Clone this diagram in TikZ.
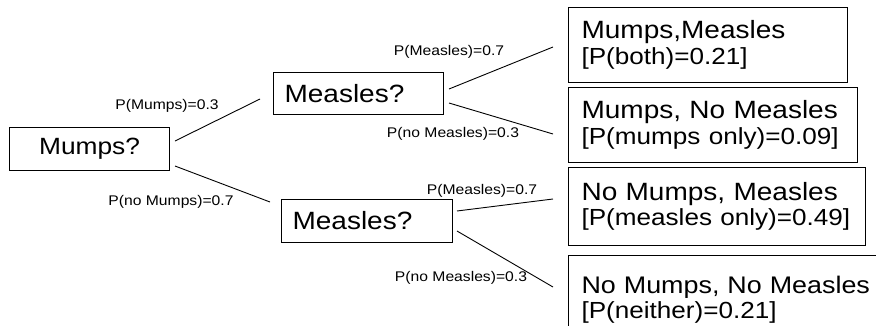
\documentclass[tikz,border=0pt]{standalone}
\usepackage{fontspec}
\setmainfont{Liberation Sans}[FakeStretch=1.12]
\newcommand{\sndline}{\fontsize{23.3}{25.5}\selectfont}
\begin{document}
\begin{tikzpicture}[x=1pt,y=-1pt,
  decbox/.style={draw, line width=1.1pt, anchor=north west, inner ysep=0pt,
    font=\fontsize{25}{26}\selectfont},
  leaf/.style={draw, line width=1.1pt, anchor=north west, inner xsep=13pt, inner ysep=0pt,
    align=left, font=\fontsize{25}{25.5}\selectfont},
  lab/.style={inner sep=0pt, font=\fontsize{14}{16}\selectfont},
  branch/.style={line width=0.9pt}]
\useasboundingbox (0,0) rectangle (876,325);

% decision boxes
\node[decbox, minimum width=160pt, minimum height=43pt, inner xsep=0pt, align=center,
      font=\fontsize{23.5}{26}\selectfont] (mumps) at (9,127) {Mumps?};
\node[decbox, text width=148pt, inner xsep=11pt, minimum height=42pt, align=left] (measA) at (273,72) {Measles?};
\node[decbox, text width=149pt, inner xsep=11pt, minimum height=43pt, align=left] (measB) at (281,199) {Measles?};

% outcome boxes
\node[leaf, text width=253pt, minimum height=75pt] (l1) at (568,7) {Mumps,Measles\\\sndline{}[P(both)=0.21]};
\node[leaf, text width=263pt, minimum height=75pt] (l2) at (568,87) {Mumps,~No~Measles\\\sndline{}[P(mumps~only)=0.09]};
\node[leaf, text width=271pt, minimum height=78pt] (l3) at (568,167) {No~Mumps,~Measles\\\sndline{}[P(measles~only)=0.49]};
\node[leaf, text width=310pt, minimum height=88pt, font=\fontsize{24}{25.5}\selectfont] (l4) at (568,255) {No~Mumps,~No~Measles\\\sndline{}[P(neither)=0.21]};

% connector ends
\coordinate (m1) at (175,141);
\coordinate (m2) at (175,166);
\coordinate (a0) at (260,99);
\coordinate (b0) at (270,202);
\coordinate (a1) at (449,89);
\coordinate (a2) at (449,103);
\coordinate (b1) at (457,211);
\coordinate (b2) at (457,231);
\coordinate (e1) at (553,47);
\coordinate (e2) at (553,134);
\coordinate (e3) at (553,199);
\coordinate (e4) at (553,287);

\draw[branch] (m1) -- (a0);
\draw[branch] (m2) -- (b0);
\draw[branch] (a1) -- (e1);
\draw[branch] (a2) -- (e2);
\draw[branch] (b1) -- (e3);
\draw[branch] (b2) -- (e4);

% probability labels
\node[lab] (p1) at (167,106) {P(Mumps)=0.3};
\node[lab] (p2) at (171,202) {P(no Mumps)=0.7};
\node[lab] (p3) at (449,52) {P(Measles)=0.7};
\node[lab] (p4) at (453,134) {P(no Measles)=0.3};
\node[lab] (p5) at (482,191) {P(Measles)=0.7};
\node[lab] (p6) at (461,278) {P(no Measles)=0.3};
\end{tikzpicture}
\end{document}
